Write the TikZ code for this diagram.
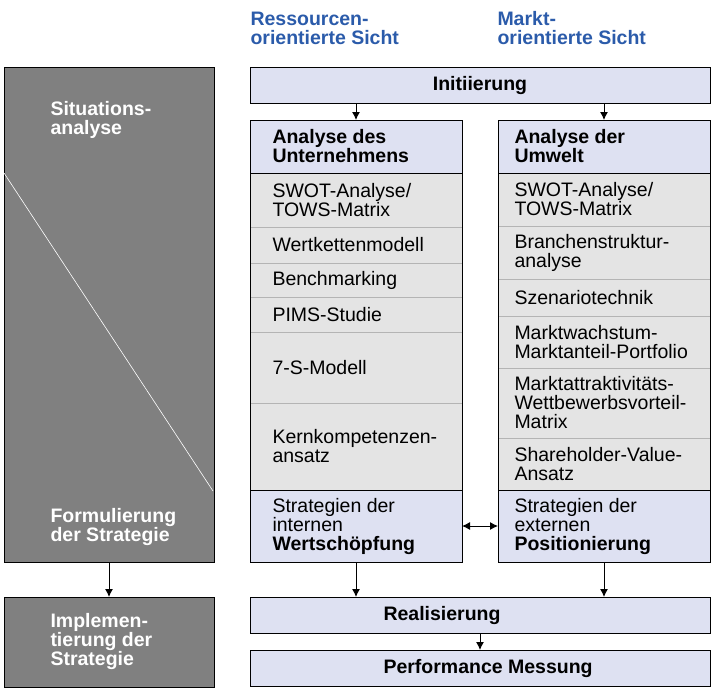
\documentclass[tikz,border=0pt]{standalone}
\usepackage{fontspec}
\setmainfont{Liberation Sans}
\usepackage{tikz}
\usepackage{xcolor}
\usetikzlibrary{arrows.meta}
\definecolor{dunkel}{HTML}{808080}
\definecolor{lila}{HTML}{DEE1F2}
\definecolor{hell}{HTML}{E4E4E4}
\definecolor{linie}{HTML}{B4B4B4}
\definecolor{blau}{HTML}{2B5BAA}

\begin{document}
\begin{tikzpicture}[x=1pt, y=-1pt, line width=1pt,
            feld/.style = {draw, anchor=north west, inner sep=0pt, outer sep=0pt},
            grau/.style = {feld, fill=dunkel, minimum width=210},
            balken/.style = {feld, fill=lila, minimum width=460, minimum height=36},
            teil/.style = {feld, draw=linie, fill=hell, minimum width=212},
            kopf/.style = {feld, fill=lila, minimum width=212},
            txt/.style = {anchor=west, align=left, inner sep=0pt, font=\fontsize{19.5}{19}\selectfont},
            fett/.style = {txt, font=\fontsize{19.5}{19}\selectfont\bfseries},
            pfeil/.style = {-{Latex[length=8pt,width=8pt]}},
            doppelpfeil/.style = {{Latex[length=8pt,width=8pt]}-{Latex[length=8pt,width=8pt]}}
        ]
        \useasboundingbox (0,0) rectangle (715,691);

        \node[fett, text=blau] (rsicht) at (250,28) {Ressourcen-\\orientierte Sicht};
        \node[fett, text=blau] (msicht) at (497,28) {Markt-\\orientierte Sicht};

        \node[grau, minimum height=495] (form) at (4,67) {};
        \draw[white, line width=0.6pt] (4,173) -- (213,491);
        \node[fett, text=white] (situ) at (50,119.5) {Situations-\\analyse};
        \node[fett, text=white] (formt) at (50,527) {Formulierung\\der Strategie};
        \node[grau, minimum height=90] (impl) at (4,597) {};
        \node[fett, text=white] (implt) at (50,641.5) {Implemen-\\tierung der\\Strategie};

        \node[balken, font=\fontsize{19.5}{19}\selectfont\bfseries] (init) at (250,67) {Initiierung};

        \node[teil, minimum height=54] (u1) at (250,173) {};
        \node[teil, minimum height=36] (u2) at (u1.south west) {};
        \node[teil, minimum height=34] (u3) at (u2.south west) {};
        \node[teil, minimum height=35] (u4) at (u3.south west) {};
        \node[teil, minimum height=71] (u5) at (u4.south west) {};
        \node[teil, minimum height=87] (u6) at (u5.south west) {};
        \node[kopf, minimum height=53, anchor=south west] (u0) at (u1.north west) {};
        \node[kopf, minimum height=72] (u7) at (u6.south west) {};
        \draw (u0.north west) rectangle (u7.south east);
        \node[fett] (u0t) at ([xshift=22]u0.west) {Analyse des\\Unternehmens};
        \node[txt] (u1t) at ([xshift=22]u1.west) {SWOT-Analyse/\\TOWS-Matrix};
        \node[txt] (u2t) at ([xshift=22]u2.west) {Wertkettenmodell};
        \node[txt] (u3t) at ([xshift=22]u3.west) {Benchmarking};
        \node[txt] (u4t) at ([xshift=22]u4.west) {PIMS-Studie};
        \node[txt] (u5t) at ([xshift=22]u5.west) {7-S-Modell};
        \node[txt] (u6t) at ([xshift=22]u6.west) {Kernkompetenzen-\\ansatz};
        \node[txt] (u7t) at ([xshift=22]u7.west) {Strategien der\\internen\\\textbf{Wertschöpfung}};

        \node[teil, minimum height=53] (m1) at (498,173) {};
        \node[teil, minimum height=53] (m2) at (m1.south west) {};
        \node[teil, minimum height=37] (m3) at (m2.south west) {};
        \node[teil, minimum height=52] (m4) at (m3.south west) {};
        \node[teil, minimum height=70] (m5) at (m4.south west) {};
        \node[teil, minimum height=52] (m6) at (m5.south west) {};
        \node[kopf, minimum height=53, anchor=south west] (m0) at (m1.north west) {};
        \node[kopf, minimum height=72] (m7) at (m6.south west) {};
        \draw (m0.north west) rectangle (m7.south east);
        \node[fett] (m0t) at ([xshift=16]m0.west) {Analyse der\\Umwelt};
        \node[txt] (m1t) at ([xshift=16]m1.west) {SWOT-Analyse/\\TOWS-Matrix};
        \node[txt] (m2t) at ([xshift=16]m2.west) {Branchenstruktur-\\analyse};
        \node[txt] (m3t) at ([xshift=16]m3.west) {Szenariotechnik};
        \node[txt] (m4t) at ([xshift=16]m4.west) {Marktwachstum-\\Marktanteil-Portfolio};
        \node[txt] (m5t) at ([xshift=16]m5.west) {Marktattraktivitäts-\\Wettbewerbsvorteil-\\Matrix};
        \node[txt] (m6t) at ([xshift=16]m6.west) {Shareholder-Value-\\Ansatz};
        \node[txt] (m7t) at ([xshift=16]m7.west) {Strategien der\\externen\\\textbf{Positionierung}};

        \node[balken] (real) at (250,597) {};
        \node[fett] (realt) at (383,615) {Realisierung};
        \node[balken] (perf) at (250,650) {};
        \node[fett] (perft) at (383,668) {Performance Messung};

        \draw[pfeil] (form.south) -- (impl.north);
        \draw[pfeil] (init.south -| u0.north) -- (u0.north);
        \draw[pfeil] (init.south -| m0.north) -- (m0.north);
        \draw[doppelpfeil] (u7.east) -- (m7.west);
        \draw[pfeil] (u7.south) -- (u7.south |- real.north);
        \draw[pfeil] (m7.south) -- (m7.south |- real.north);
        \draw[pfeil] (real.south) -- (perf.north);
    \end{tikzpicture}
\end{document}
